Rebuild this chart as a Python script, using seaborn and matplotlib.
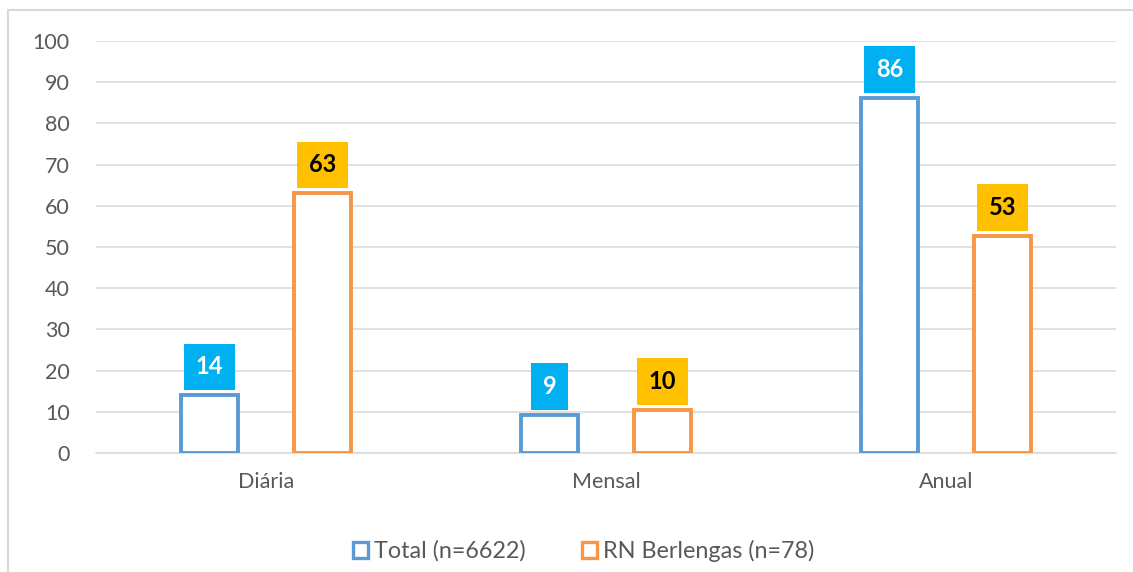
import matplotlib
matplotlib.use("Agg")
import matplotlib.pyplot as plt
from matplotlib.patches import Patch, Rectangle
import seaborn as sns
import pandas as pd

categories = ["Diária", "Mensal", "Anual"]
series_names = ["Total (n=6622)", "RN Berlengas (n=78)"]
total_values = [14, 9.2, 86.2]
berlengas_values = [63, 10.4, 52.7]
total_labels = ["14", "9", "86"]
berlengas_labels = ["63", "10", "53"]
y_ticks = [0, 10, 20, 30, 40, 50, 60, 70, 80, 90, 100]

edge_colors = ["#5B9BD5", "#F79646"]
box_colors = ["#00B0F0", "#FFC000"]
text_colors = ["white", "black"]

df = pd.DataFrame({
    "cat": categories * 2,
    "series": [series_names[0]] * 3 + [series_names[1]] * 3,
    "value": total_values + berlengas_values,
})

sns.set_theme(style="white")
plt.rcParams["font.family"] = ["Lato", "DejaVu Sans"]

fig = plt.figure(figsize=(11.33, 5.72), dpi=100)
ax = fig.add_axes([96/1133, 1-453/572, (1116-96)/1133, (453-41)/572])

sns.barplot(data=df, x="cat", y="value", hue="series", order=categories,
            hue_order=series_names, palette=edge_colors, width=0.664, gap=0.494,
            fill=False, linewidth=2.6, legend=False, ax=ax, errorbar=None)

for cont, col in zip(ax.containers, edge_colors):
    for bar in cont:
        bar.set_facecolor("white")
        bar.set_edgecolor(col)
        bar.set_linewidth(2.8)
        bar.set_zorder(3)

labels_all = [total_labels, berlengas_labels]
for i, cont in enumerate(ax.containers):
    for bar, lab in zip(cont, labels_all[i]):
        x = bar.get_x() + bar.get_width() / 2
        y = bar.get_height()
        ax.annotate(lab, (x, y), xytext=(0, 20.5), textcoords="offset points",
                    ha="center", va="center", fontsize=17, fontweight="bold",
                    color=text_colors[i], zorder=5,
                    bbox=dict(boxstyle="square,pad=0.5", fc=box_colors[i], ec="none"))

ax.set_ylim(0, 100)
ax.set_xlim(-0.5, 2.5)
ax.set_yticks(y_ticks)
ax.set_yticklabels([str(t) for t in y_ticks])
ax.yaxis.grid(True, color="#D9D9D9", linewidth=1.1)
ax.set_axisbelow(True)
for s in ["left", "top", "right"]:
    ax.spines[s].set_visible(False)
ax.spines["bottom"].set_color("#D9D9D9")
ax.spines["bottom"].set_linewidth(1.1)
ax.tick_params(axis="y", length=0, pad=19, labelsize=15.5, labelcolor="#595959")
ax.tick_params(axis="x", which="major", length=0, pad=14, labelsize=15.5, labelcolor="#595959")
ax.set_xticks([-0.5, 0.5, 1.5, 2.5], minor=True)
ax.tick_params(axis="x", which="minor", length=5, color="#D9D9D9", width=1.1)
ax.set_xlabel("")
ax.set_ylabel("")

handles = [Patch(facecolor="white", edgecolor=c, linewidth=2.4) for c in edge_colors]
fig.legend(handles, series_names, loc="center", bbox_to_anchor=(0.515, 1-551/572),
           ncol=2, frameon=False, fontsize=16.8, handlelength=0.65, handleheight=0.65,
           handletextpad=0.25, columnspacing=2.4, labelcolor="#595959")

fig.patches.append(Rectangle((8/1133, -0.1), 1.2, 1.1 - 10/572, transform=fig.transFigure,
                             fill=False, edgecolor="#D9D9D9", linewidth=1.5, zorder=0))

fig.savefig("out.png", dpi=100, facecolor="white")
